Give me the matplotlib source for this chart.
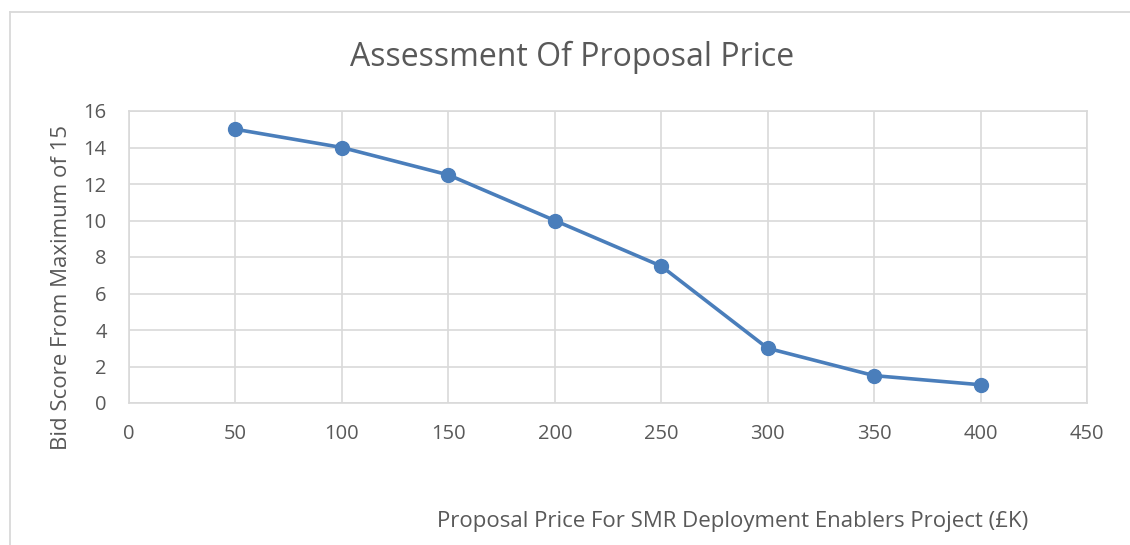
import matplotlib.pyplot as plt
from matplotlib.lines import Line2D

plt.rcParams['font.family'] = ['Open Sans', 'DejaVu Sans']

# data
price_k = [50, 100, 150, 200, 250, 300, 350, 400]
bid_score = [15, 14, 12.5, 10, 7.5, 3, 1.5, 1]
x_ticks = [0, 50, 100, 150, 200, 250, 300, 350, 400, 450]
y_ticks = [0, 2, 4, 6, 8, 10, 12, 14, 16]

text_col = '#595959'
grid_col = '#d9d9d9'
line_col = '#4a7ebb'

fig = plt.figure(figsize=(11.3, 5.45), dpi=100)
W, H = 1130, 545

# chart frame (left and top edges visible)
fig.add_artist(Line2D([9.5 / W, 9.5 / W], [0, 1 - 12 / H], color=grid_col, lw=1.3))
fig.add_artist(Line2D([9.5 / W, 1], [1 - 12 / H, 1 - 12 / H], color=grid_col, lw=1.3))

ax = fig.add_axes([129 / W, 1 - 403 / H, (1087 - 129) / W, (403 - 111) / H])
ax.plot(price_k, bid_score, color=line_col, lw=2.6, marker='o', ms=10,
        markerfacecolor=line_col, markeredgecolor=line_col, zorder=3)

ax.set_xlim(0, 450)
ax.set_ylim(0, 16)
ax.set_xticks(x_ticks)
ax.set_yticks(y_ticks)
ax.grid(True, color=grid_col, lw=1.2)
ax.set_axisbelow(True)
for s in ax.spines.values():
    s.set_color(grid_col)
    s.set_linewidth(1.2)
ax.tick_params(length=0, labelsize=14.5, colors=text_col)
ax.tick_params(axis='x', pad=15)
ax.tick_params(axis='y', pad=16)

fig.text(572 / W, 1 - 57 / H, 'Assessment Of Proposal Price', ha='center',
         va='center', fontsize=23, color=text_col)
fig.text(733 / W, 1 - 521 / H, 'Proposal Price For SMR Deployment Enablers Project (£K)',
         ha='center', va='center', fontsize=16, color=text_col)
fig.text(62 / W, 1 - 287 / H, 'Bid Score From Maximum of 15', ha='center',
         va='center', rotation=90, fontsize=16, color=text_col)

fig.savefig('out.png', dpi=100, facecolor='white')
